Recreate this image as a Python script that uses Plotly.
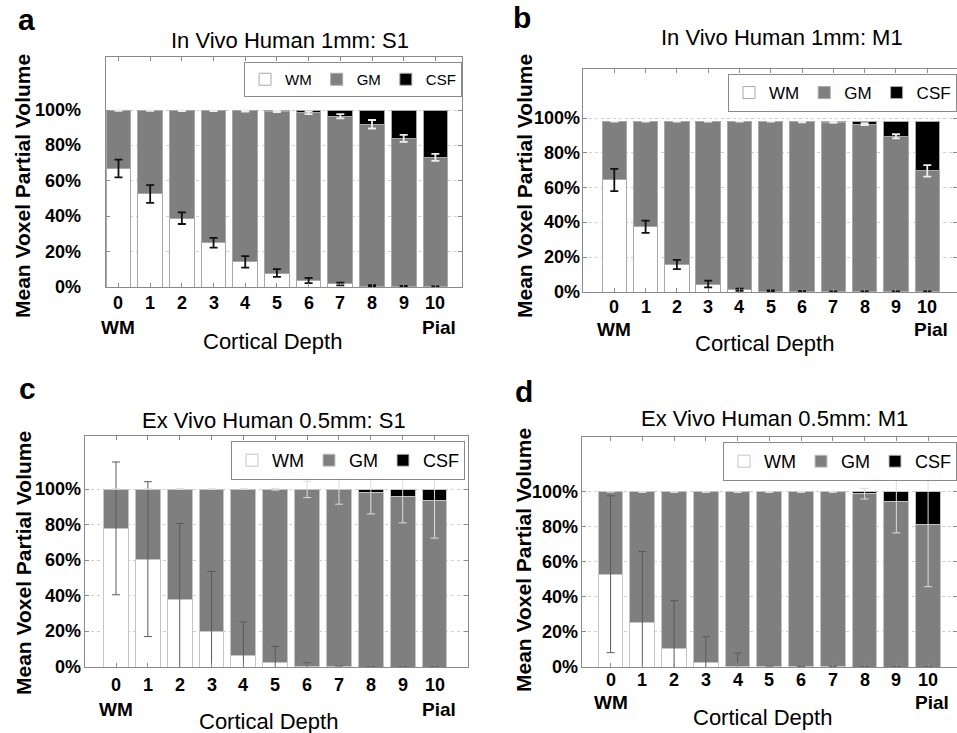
import plotly.graph_objects as go

# ---------------- data ----------------
depth = [0, 1, 2, 3, 4, 5, 6, 7, 8, 9, 10]
depth_ticks = ["0", "1", "2", "3", "4", "5", "6", "7", "8", "9", "10"]
y_ticks = [0, 20, 40, 60, 80, 100]
y_tick_labels = ["0%", "20%", "40%", "60%", "80%", "100%"]
series_names = ["WM", "GM", "CSF"]

titles = ["In Vivo Human 1mm: S1", "In Vivo Human 1mm: M1",
          "Ex Vivo Human 0.5mm: S1", "Ex Vivo Human 0.5mm: M1"]
panel_letters = ["a", "b", "c", "d"]

# Panel a: In vivo S1
wm_a = [67.0, 52.6, 38.9, 25.0, 14.2, 7.9, 3.7, 1.7, 0.5, 0.2, 0.1]
gm_a = [32.7, 47.1, 60.7, 74.6, 85.3, 91.4, 94.8, 94.8, 91.5, 83.8, 73.2]
csf_a = [0.3, 0.3, 0.4, 0.4, 0.5, 0.7, 1.5, 3.5, 8.0, 16.0, 26.7]
wm_err_a = [5.0, 5.0, 3.3, 2.8, 3.2, 2.2, 1.5, 0.8, 0.5, 0.4, 0.3]
gm_err_a = [0.2, 0.2, 0.2, 0.2, 0.3, 0.4, 0.8, 1.2, 2.4, 2.0, 2.0]

# Panel b: In vivo M1
wm_b = [64.4, 37.5, 15.8, 4.6, 1.3, 0.5, 0.2, 0.2, 0.2, 0.2, 0.2]
gm_b = [33.6, 60.5, 82.2, 93.4, 96.7, 97.5, 97.6, 97.3, 96.3, 89.3, 69.4]
csf_b = [0.0, 0.0, 0.0, 0.0, 0.0, 0.0, 0.2, 0.5, 1.5, 8.5, 28.4]
wm_err_b = [6.4, 3.5, 2.7, 1.9, 0.6, 0.4, 0.3, 0.2, 0.2, 0.2, 0.2]
gm_err_b = [0.0, 0.0, 0.0, 0.0, 0.0, 0.0, 0.2, 0.3, 0.5, 1.2, 3.3]

# Panel c: Ex vivo S1
wm_c = [77.9, 60.6, 37.9, 19.7, 6.6, 2.3, 0.3, 0.1, 0.0, 0.0, 0.0]
gm_c = [22.1, 39.4, 62.1, 80.3, 93.4, 97.6, 99.5, 99.4, 98.0, 96.0, 93.4]
csf_c = [0.0, 0.0, 0.0, 0.0, 0.0, 0.1, 0.2, 0.5, 2.0, 4.0, 6.6]
wm_err_c = [37.3, 43.5, 42.7, 34.0, 18.7, 9.3, 2.1, 0.5, 0.0, 0.0, 0.0]
gm_err_c = [0.0, 0.0, 0.2, 0.2, 0.2, 0.5, 4.6, 8.0, 12.0, 15.0, 21.0]

# Panel d: Ex vivo M1
wm_d = [53.0, 25.4, 10.3, 2.3, 0.3, 0.1, 0.1, 0.1, 0.0, 0.0, 0.0]
gm_d = [47.0, 74.6, 89.7, 97.7, 99.7, 99.9, 99.9, 99.9, 99.0, 94.6, 81.3]
csf_d = [0.0, 0.0, 0.0, 0.0, 0.0, 0.0, 0.0, 0.0, 1.0, 5.4, 18.7]
wm_err_d = [44.8, 40.6, 27.6, 15.0, 7.7, 0.5, 0.3, 0.3, 0.0, 0.0, 0.0]
gm_err_d = [0.0, 0.3, 0.3, 0.3, 0.3, 0.3, 0.3, 0.3, 3.0, 18.0, 35.4]

panels = [
    (wm_a, gm_a, csf_a, wm_err_a, gm_err_a),
    (wm_b, gm_b, csf_b, wm_err_b, gm_err_b),
    (wm_c, gm_c, csf_c, wm_err_c, gm_err_c),
    (wm_d, gm_d, csf_d, wm_err_d, gm_err_d),
]

# ---------------- layout geometry (pixels of the 957x733 page) ----------------
W, H = 957, 733
FONT = "Liberation Sans, Arial, Helvetica, sans-serif"

boxes = [(106, 462, 57, 287), (583, 957, 69, 292), (85, 468, 436, 667), (582, 957, 437, 667)]
xranges = [[-0.394, 10.84], [-1.0, 10.95], [-0.973, 11.05], [-0.9, 10.91]]
ytops = [130, 128.2, 129.8, 131.4]
ylabel_right = [83, 582, 83, 580]   # right edge (px) of the y tick labels
xlabel_y = [303, 307, 685, 680]     # centre (px) of the x tick label row
bar_line = ["#a8a8a8", "#a8a8a8", "#c4c4c4", "#c4c4c4"]
wm_err_style = [("#111111", 1.8, 4), ("#111111", 1.8, 4), ("#5a5a5a", 1.0, 4), ("#5a5a5a", 1.0, 4)]
gm_err_style = [("#eeeeee", 1.8, 4), ("#eeeeee", 1.8, 4), ("#dddddd", 1.0, 4), ("#dddddd", 1.0, 4)]
legend_pos = [(462, 62, 15), (957, 74, 17), (465, 441, 18), (957, 442, 18)]

title_pos = [(290, 40), (782, 38), (274, 420), (774, 418)]
letter_pos = [(26, 19), (522, 18), (27, 388), (524, 391)]
ytitle_pos = [(23, 186), (525, 186), (23, 563), (523, 560)]
xtitle_pos = [(272, 341), (764, 343), (268, 721), (762, 717)]
endlab_y = [327, 329, 709, 702]


def px(x):
    return x / W


def py(y):
    return 1 - y / H


fig = go.Figure()
colors = ["#ffffff", "#7f7f7f", "#000000"]

for i, (wm, gm, csf, wm_err, gm_err) in enumerate(panels):
    n = "" if i == 0 else str(i + 1)
    xa, ya = "x" + n, "y" + n
    leg = "legend" + n
    for name, vals, col in zip(series_names, (wm, gm, csf), colors):
        fig.add_trace(go.Bar(
            x=depth, y=vals, name=name, xaxis=xa, yaxis=ya, legend=leg,
            width=0.78, marker=dict(color=col, line=dict(color=bar_line[i], width=1)),
            hoverinfo="skip",
        ))
    gm_top = [a + b for a, b in zip(wm, gm)]
    for yvals, errs, (ec, et, ew) in ((wm, wm_err, wm_err_style[i]), (gm_top, gm_err, gm_err_style[i])):
        fig.add_trace(go.Scatter(
            x=depth, y=yvals, mode="markers", xaxis=xa, yaxis=ya,
            marker=dict(size=1, opacity=0), showlegend=False, hoverinfo="skip",
            error_y=dict(type="data", array=errs, visible=True, color=ec, thickness=et, width=ew),
        ))

layout = dict(
    width=W, height=H, margin=dict(l=0, r=0, t=0, b=0, autoexpand=False),
    paper_bgcolor="white", plot_bgcolor="white",
    barmode="stack", bargap=0.2, showlegend=True,
    font=dict(family=FONT, color="black"),
)

annotations = []
for i in range(4):
    n = "" if i == 0 else str(i + 1)
    l, r, t, b = boxes[i]
    line_common = dict(showline=True, mirror="ticks", linecolor="#8a8a8a", linewidth=1, zeroline=False,
                       ticks="inside", ticklen=4, tickcolor="#8a8a8a", automargin=False,
                       showticklabels=False)
    layout["xaxis" + n] = dict(
        domain=[px(l), min(px(r), 1.0)], range=xranges[i], anchor="y" + n,
        tickvals=depth, showgrid=False, **line_common)
    layout["yaxis" + n] = dict(
        domain=[py(b), py(t)], range=[0, ytops[i]], anchor="x" + n,
        tickvals=y_ticks, showgrid=True, gridcolor="#d0d0d0", griddash="dot", gridwidth=1,
        **line_common)
    # tick labels, placed at the axis values
    for v, s in zip(y_ticks, y_tick_labels):
        annotations.append(dict(text="<b>%s</b>" % s, x=px(ylabel_right[i]), xref="paper",
                                y=v, yref="y" + n, showarrow=False,
                                xanchor="right", yanchor="middle",
                                font=dict(family=FONT, size=18, color="black")))
    for v, s in zip(depth, depth_ticks):
        annotations.append(dict(text="<b>%s</b>" % s, x=v, xref="x" + n,
                                y=py(xlabel_y[i]), yref="paper", showarrow=False,
                                xanchor="center", yanchor="middle",
                                font=dict(family=FONT, size=18, color="black")))
    lx, ly, lfs = legend_pos[i]
    layout["legend" + n] = dict(
        x=px(lx), y=py(ly), xanchor="right", yanchor="top", orientation="h",
        traceorder="normal",
        bgcolor="white", bordercolor="#8a8a8a", borderwidth=1,
        font=dict(family=FONT, size=lfs, color="black"),
        itemclick=False, itemdoubleclick=False, tracegroupgap=0, itemwidth=30,
    )
    tx, ty = title_pos[i]
    annotations.append(dict(text=titles[i], x=px(tx), y=py(ty), xref="paper", yref="paper",
                            showarrow=False, xanchor="center", yanchor="middle",
                            font=dict(family=FONT, size=22, color="black")))
    lx2, ly2 = letter_pos[i]
    annotations.append(dict(text="<b>%s</b>" % panel_letters[i], x=px(lx2), y=py(ly2),
                            xref="paper", yref="paper", showarrow=False,
                            xanchor="center", yanchor="middle",
                            font=dict(family=FONT, size=30, color="black")))
    yx, yy = ytitle_pos[i]
    annotations.append(dict(text="<b>Mean Voxel Partial Volume</b>", x=px(yx), y=py(yy),
                            xref="paper", yref="paper", showarrow=False, textangle=-90,
                            xanchor="center", yanchor="middle",
                            font=dict(family=FONT, size=21, color="black")))
    cx, cy = xtitle_pos[i]
    annotations.append(dict(text="Cortical Depth", x=px(cx), y=py(cy), xref="paper", yref="paper",
                            showarrow=False, xanchor="center", yanchor="middle",
                            font=dict(family=FONT, size=22, color="black")))
    for lab, xv, xs in (("WM", depth[0], 0), ("Pial", depth[-1], 4)):
        annotations.append(dict(text="<b>%s</b>" % lab, x=xv, xref="x" + n, xshift=xs,
                                y=py(endlab_y[i]), yref="paper", showarrow=False,
                                xanchor="center", yanchor="middle",
                                font=dict(family=FONT, size=19, color="black")))

layout["annotations"] = annotations
fig.update_layout(**layout)
fig.write_html("out.html")
